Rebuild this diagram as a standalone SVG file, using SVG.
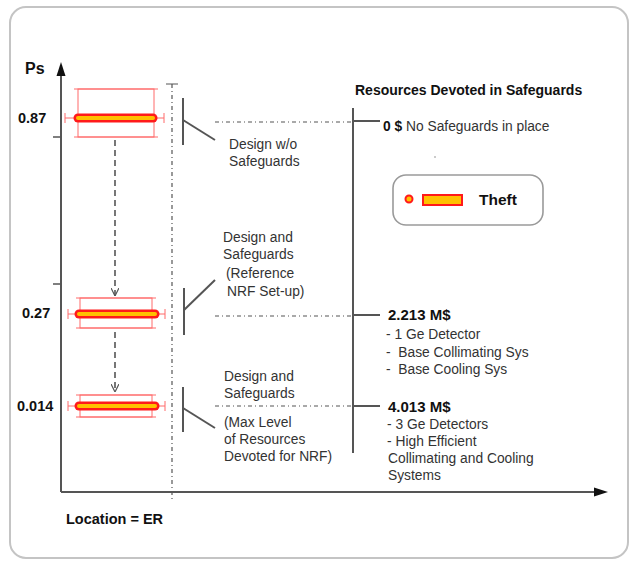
<svg xmlns="http://www.w3.org/2000/svg" width="630" height="561" viewBox="0 0 630 561">
<defs>
<style>
text{font-family:"Liberation Sans",Arial,sans-serif;fill:#333}
.lbl{font-size:13.8px}
.b{font-weight:bold;fill:#111}
.box{fill:none;stroke:#ff6b6b;stroke-width:1}
.barO{stroke:#ff1a1a;stroke-width:9;stroke-linecap:round}
.barI{stroke:#ffc000;stroke-width:4;stroke-linecap:round}
.axis{stroke:#555;stroke-width:2;fill:none}
.dd{stroke:#555;stroke-width:1.2;stroke-dasharray:4 3 1 3;fill:none}
.dash{stroke:#555;stroke-width:1.6;stroke-dasharray:6 4;fill:none}
.brk{stroke:#555;stroke-width:2;fill:none}
</style>
<marker id="ah" viewBox="0 0 10 10" refX="10" refY="5" markerWidth="8" markerHeight="8" orient="auto" markerUnits="userSpaceOnUse">
<path d="M0,0 L10,5 L0,10" fill="none" stroke="#555" stroke-width="1.5"/>
</marker>
</defs>
<rect x="10" y="7" width="618" height="551" rx="16" fill="#fff" stroke="#c4c4c4" stroke-width="2"/>

<g id="axes">
<line class="axis" x1="61" y1="492" x2="61" y2="74"/>
<polygon points="61,62 56.5,76 65.5,76" fill="#111"/>
<line class="axis" x1="61" y1="492" x2="596" y2="492"/>
<polygon points="608,492 594,487.5 594,496.5" fill="#111"/>
<line x1="53" y1="137" x2="61" y2="137" stroke="#555" stroke-width="1.5"/>
<line x1="53" y1="284" x2="61" y2="284" stroke="#555" stroke-width="1.5"/>
<text x="25" y="74" class="b" font-size="16">Ps</text>
<text x="18" y="123" class="b" font-size="14.5">0.87</text>
<text x="22" y="318" class="b" font-size="14.5">0.27</text>
<text x="17" y="411" class="b" font-size="14.5">0.014</text>
<text x="66" y="524" class="b" font-size="14.5">Location = ER</text>
</g>

<g id="location-line">
<line class="dd" x1="172" y1="84" x2="172" y2="500"/>
<line x1="166" y1="84" x2="178" y2="84" stroke="#555" stroke-width="1"/>
</g>

<g id="box-087">
<rect class="box" x="78" y="89" width="76" height="48"/>
<line class="box" x1="74" y1="89" x2="158" y2="89"/>
<line class="box" x1="74" y1="137" x2="158" y2="137"/>
<line class="box" x1="65" y1="118" x2="164" y2="118"/>
<line class="box" x1="65" y1="113" x2="65" y2="123"/>
<line class="box" x1="164" y1="113" x2="164" y2="123"/>
<line class="barO" x1="78" y1="118" x2="153" y2="118"/>
<line class="barI" x1="78" y1="118" x2="153" y2="118"/>
</g>

<g id="box-027">
<rect class="box" x="80" y="298" width="72" height="30"/>
<line class="box" x1="76" y1="298" x2="156" y2="298"/>
<line class="box" x1="76" y1="328" x2="156" y2="328"/>
<line class="box" x1="68" y1="314" x2="165" y2="314"/>
<line class="box" x1="68" y1="309" x2="68" y2="319"/>
<line class="box" x1="165" y1="309" x2="165" y2="319"/>
<line class="barO" x1="79" y1="314" x2="155" y2="314"/>
<line class="barI" x1="79" y1="314" x2="155" y2="314"/>
</g>

<g id="box-0014">
<rect class="box" x="80" y="395" width="72" height="22"/>
<line class="box" x1="76" y1="395" x2="156" y2="395"/>
<line class="box" x1="76" y1="417" x2="156" y2="417"/>
<line class="box" x1="68" y1="406" x2="165" y2="406"/>
<line class="box" x1="68" y1="401" x2="68" y2="411"/>
<line class="box" x1="165" y1="401" x2="165" y2="411"/>
<line class="barO" x1="79" y1="406" x2="155" y2="406"/>
<line class="barI" x1="79" y1="406" x2="155" y2="406"/>
</g>

<g id="design-wo">
<text class="lbl" x="229" y="149">Design w/o</text>
<text class="lbl" x="229" y="166">Safeguards</text>
</g>
<g id="design-ref">
<text class="lbl" x="223" y="242">Design and</text>
<text class="lbl" x="223" y="259">Safeguards</text>
<text class="lbl" x="226" y="278">(Reference</text>
<text class="lbl" x="227" y="296">NRF Set-up)</text>
</g>
<g id="design-max">
<text class="lbl" x="224" y="381">Design and</text>
<text class="lbl" x="224" y="398">Safeguards</text>
<text class="lbl" x="224" y="427">(Max Level</text>
<text class="lbl" x="224" y="444">of Resources</text>
<text class="lbl" x="224" y="461">Devoted for NRF)</text>
</g>

<g id="resources">
<text class="b" font-size="14" x="355" y="95">Resources Devoted in Safeguards</text>
<text class="lbl" x="383" y="131"><tspan class="b">0 $</tspan> No Safeguards in place</text>
<circle cx="435" cy="157" r="0.8" fill="#888"/>
<text class="b" font-size="15" x="388" y="320">2.213 M$</text>
<text class="lbl" x="386" y="339">- 1 Ge Detector</text>
<text class="lbl" x="386" y="357" xml:space="preserve">-  Base Collimating Sys</text>
<text class="lbl" x="386" y="374" xml:space="preserve">-  Base Cooling Sys</text>
<text class="b" font-size="15" x="388" y="412">4.013 M$</text>
<text class="lbl" x="387" y="429">- 3 Ge Detectors</text>
<text class="lbl" x="387" y="446">- High Efficient</text>
<text class="lbl" x="388" y="463">Collimating and Cooling</text>
<text class="lbl" x="388" y="480">Systems</text>
</g>

<g id="legend">
<rect x="393" y="175" width="150" height="50" rx="13" fill="#fff" stroke="#9a9a9a" stroke-width="1.6"/>
<circle cx="409" cy="199" r="3.5" fill="#ffc000" stroke="#ff1a1a" stroke-width="2"/>
<rect x="423" y="195" width="39" height="10" fill="#ffc000" stroke="#ff1a1a" stroke-width="2"/>
<text class="b" font-size="15.5" x="479" y="205">Theft</text>
</g>

<g id="connectors">
<line class="dash" x1="115" y1="140" x2="115" y2="296" marker-end="url(#ah)"/>
<line class="dash" x1="115" y1="332" x2="115" y2="392" marker-end="url(#ah)"/>
<line class="brk" x1="183" y1="98" x2="183" y2="145"/>
<line class="brk" x1="183" y1="120" x2="215" y2="140" stroke-width="1.5"/>
<line class="brk" x1="184" y1="288" x2="184" y2="335"/>
<line class="brk" x1="184" y1="310" x2="215" y2="280" stroke-width="1.5"/>
<line class="brk" x1="183" y1="387" x2="183" y2="432"/>
<line class="brk" x1="183" y1="408" x2="215" y2="428" stroke-width="1.5"/>
<line class="dd" x1="215" y1="122" x2="353" y2="122"/>
<line class="dd" x1="215" y1="316" x2="353" y2="316"/>
<line class="dd" x1="215" y1="406" x2="353" y2="406"/>
<line class="brk" x1="353" y1="108" x2="353" y2="453"/>
<line class="brk" x1="353" y1="121" x2="380" y2="121"/>
<line class="brk" x1="353" y1="315" x2="380" y2="315"/>
<line class="brk" x1="353" y1="406" x2="380" y2="406"/>
</g>
</svg>
